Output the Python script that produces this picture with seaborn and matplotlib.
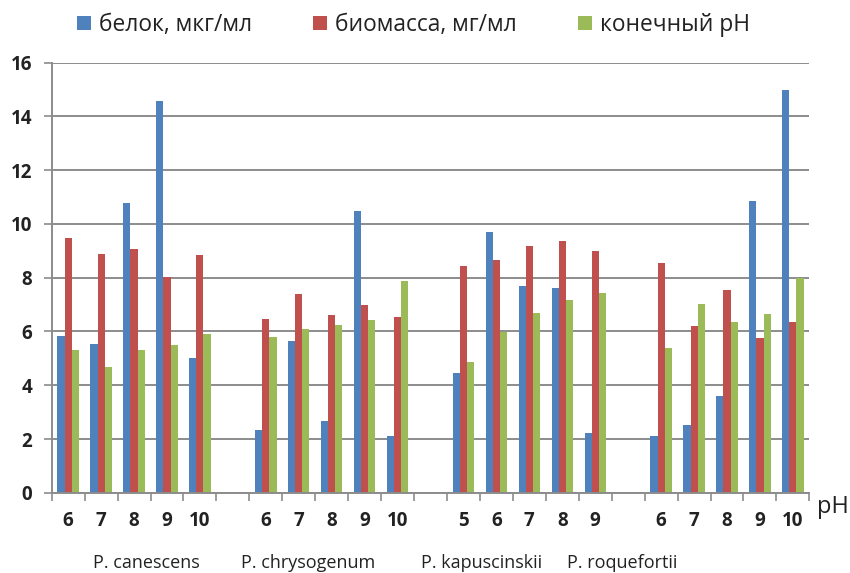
import matplotlib
matplotlib.use("Agg")
import matplotlib.pyplot as plt
import seaborn as sns
import pandas as pd
import numpy as np

sns.set_theme(style="white")
plt.rcParams['font.family'] = ['Open Sans', 'DejaVu Sans']

groups = ["P. canescens", "P. chrysogenum", "P. kapuscinskii", "P. roquefortii"]
ph_labels = [["6", "7", "8", "9", "10"],
             ["6", "7", "8", "9", "10"],
             ["5", "6", "7", "8", "9"],
             ["6", "7", "8", "9", "10"]]
series = ["белок, мкг/мл", "биомасса, мг/мл", "конечный pH"]
protein = [[5.82, 5.55, 10.78, 14.59, 5.03],
           [2.35, 5.66, 2.66, 10.47, 2.10],
           [4.47, 9.69, 7.70, 7.60, 2.23],
           [2.12, 2.52, 3.59, 10.87, 15.0]]
biomass = [[9.49, 8.88, 9.07, 8.03, 8.86],
           [6.45, 7.38, 6.60, 6.97, 6.53],
           [8.42, 8.67, 9.17, 9.35, 9.00],
           [8.55, 6.20, 7.53, 5.77, 6.36]]
final_ph = [[5.31, 4.67, 5.31, 5.48, 5.90],
            [5.78, 6.09, 6.23, 6.41, 7.86],
            [4.86, 5.99, 6.69, 7.17, 7.43],
            [5.38, 7.02, 6.34, 6.64, 8.0]]
colors = ["#4F81BD", "#C0504D", "#9BBB59"]

rows = []
order = []
tick_text = []
for gi, g in enumerate(groups):
    for pi, lab in enumerate(ph_labels[gi]):
        key = f"{gi}_{pi}"
        order.append(key)
        tick_text.append(lab)
        for s, vals in zip(series, [protein, biomass, final_ph]):
            rows.append({"slot": key, "series": s, "value": vals[gi][pi]})
    if gi < len(groups) - 1:
        order.append(f"gap{gi}")
        tick_text.append("")
df = pd.DataFrame(rows)

fig = plt.figure(figsize=(8.5, 5.73), dpi=100)
ax = fig.add_axes([0.0608, 0.140, 0.8914, 0.7506])

sns.barplot(data=df, x="slot", y="value", hue="series", order=order,
            hue_order=series, palette=colors, width=0.65, ax=ax,
            edgecolor="none", linewidth=0, errorbar=None, saturation=1)

ax.set_xlim(-0.5, len(order) - 0.5)
ax.set_ylim(0, 16)
ax.set_yticks(np.arange(0, 17, 2))
ax.set_yticklabels([str(v) for v in range(0, 17, 2)], fontsize=13.5, fontweight="bold", color="#222222")
ax.yaxis.grid(True, color="#8c8c8c", linewidth=1.4)
ax.set_axisbelow(True)
ax.tick_params(axis="y", length=6, color="#8c8c8c", width=1.2, pad=8, left=True)

ax.set_xticks(range(len(order)))
ax.set_xticklabels(tick_text, fontsize=13.5, fontweight="bold", color="#222222")
ax.tick_params(axis="x", which="major", length=0, pad=13)
ax.set_xticks(np.arange(-0.5, len(order), 1), minor=True)
ax.tick_params(axis="x", which="minor", length=6, color="#8c8c8c", width=1.2, bottom=True)

for sp in ["top", "right"]:
    ax.spines[sp].set_visible(False)
for sp in ["left", "bottom"]:
    ax.spines[sp].set_color("#8c8c8c")
    ax.spines[sp].set_linewidth(1.4)

ax.set_xlabel("")
ax.set_ylabel("")

leg = ax.legend(loc="upper left", bbox_to_anchor=(68 / 850, 1 - 4 / 573), bbox_transform=fig.transFigure,
                ncol=3, frameon=False, fontsize=16.4, handlelength=0.6, handleheight=0.6,
                handletextpad=0.35, columnspacing=2.7, borderaxespad=0.0)
for t in leg.get_texts():
    t.set_color("#222222")

fig.text(817 / 850, 1 - 507 / 573, "pH", fontsize=17, color="#222222", va="center", ha="left")

grp_x = [146, 308, 482, 622]
for gx, g in zip(grp_x, groups):
    fig.text(gx / 850, 1 - 563 / 573, g, fontsize=13, color="#222222", ha="center", va="center")

fig.savefig("out.png", dpi=100)
